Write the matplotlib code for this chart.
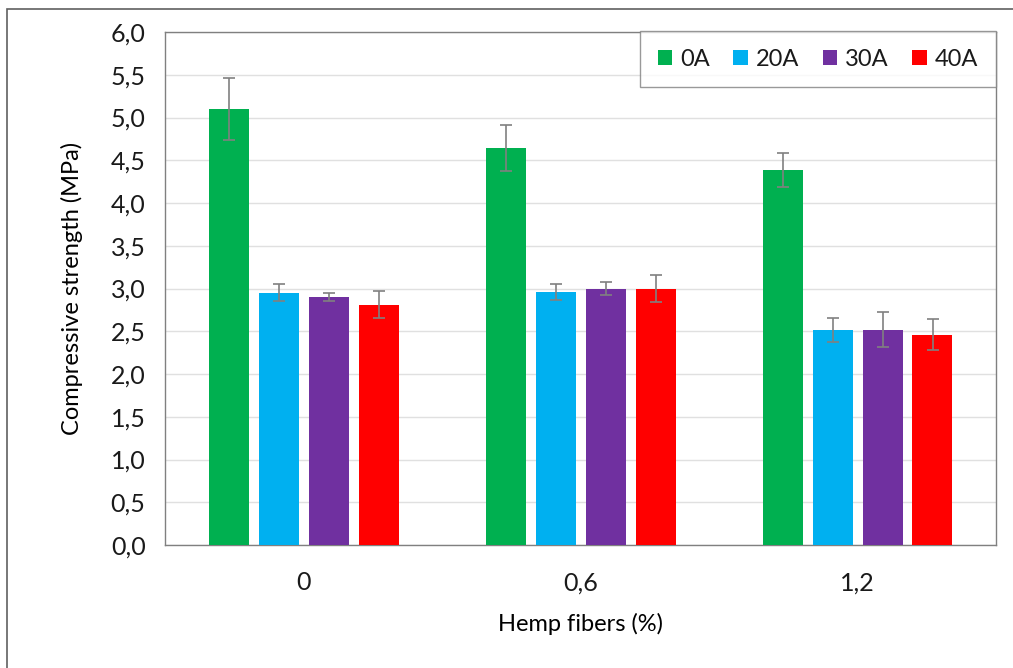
import matplotlib
matplotlib.use("Agg")
import matplotlib.pyplot as plt
import numpy as np
from matplotlib.patches import Rectangle

categories = ["0", "0,6", "1,2"]
series = ["0A", "20A", "30A", "40A"]
values_0A = [5.10, 4.64, 4.39]
values_20A = [2.95, 2.96, 2.51]
values_30A = [2.90, 3.00, 2.52]
values_40A = [2.81, 3.00, 2.46]
err_0A = [0.36, 0.27, 0.20]
err_20A = [0.10, 0.09, 0.14]
err_30A = [0.05, 0.08, 0.21]
err_40A = [0.16, 0.16, 0.18]
colors = ["#00B050", "#00B0F0", "#7030A0", "#FF0000"]
yticks = [0.0, 0.5, 1.0, 1.5, 2.0, 2.5, 3.0, 3.5, 4.0, 4.5, 5.0, 5.5, 6.0]

plt.rcParams['font.family'] = ['Lato', 'DejaVu Sans']
plt.rcParams['text.color'] = '#1a1a1a'

W, H = 1013, 668
fig = plt.figure(figsize=(W/100, H/100), dpi=100)
ax = fig.add_axes([165/W, 1-545/H, (996-165)/W, (545-32)/H])

vals = [values_0A, values_20A, values_30A, values_40A]
errs = [err_0A, err_20A, err_30A, err_40A]
x = np.arange(len(categories))
step = 50/277
width = 40/277
for i, (v, e, c, s) in enumerate(zip(vals, errs, colors, series)):
    pos = x + (i - 1.5) * step
    ax.bar(pos, v, width=width, color=c, label=s, zorder=3)
    ax.errorbar(pos, v, yerr=e, fmt='none', ecolor='#808080', elinewidth=1.2,
                capsize=4.5, capthick=1.2, zorder=4)

ax.set_xlim(-0.5, 2.5)
ax.set_ylim(0, 6)
ax.set_yticks(yticks)
ax.set_yticklabels([f"{t:.1f}".replace('.', ',') for t in yticks], fontsize=18, color='#1a1a1a')
ax.set_xticks(x)
ax.set_xticklabels(categories, fontsize=18, color='#1a1a1a')
ax.tick_params(axis='both', length=0)
ax.tick_params(axis='y', pad=14)
ax.tick_params(axis='x', pad=19)
ax.yaxis.grid(True, color='#E0E0E0', linewidth=1, zorder=0)
ax.set_axisbelow(True)
for sp in ax.spines.values():
    sp.set_color('#808080')
    sp.set_linewidth(1)

ax.set_ylabel("Compressive strength (MPa)", fontsize=17, labelpad=20)
ax.set_xlabel("Hemp fibers (%)", fontsize=17, labelpad=13)

leg = ax.legend(loc='upper right', ncol=4, prop={'size': 17},
                frameon=True, fancybox=False,
                edgecolor='#808080', handlelength=0.6, handleheight=0.6,
                handletextpad=0.35, columnspacing=1.0, borderpad=0.75,
                bbox_to_anchor=(1.0, 1.002), borderaxespad=0)
leg.get_frame().set_linewidth(1)

fig.patches.append(Rectangle((7/W, -0.1), 1.2, 1 - 9/H + 0.1, transform=fig.transFigure,
                             fill=False, edgecolor='#606060', linewidth=1.2))

fig.savefig("out.png", dpi=100)
